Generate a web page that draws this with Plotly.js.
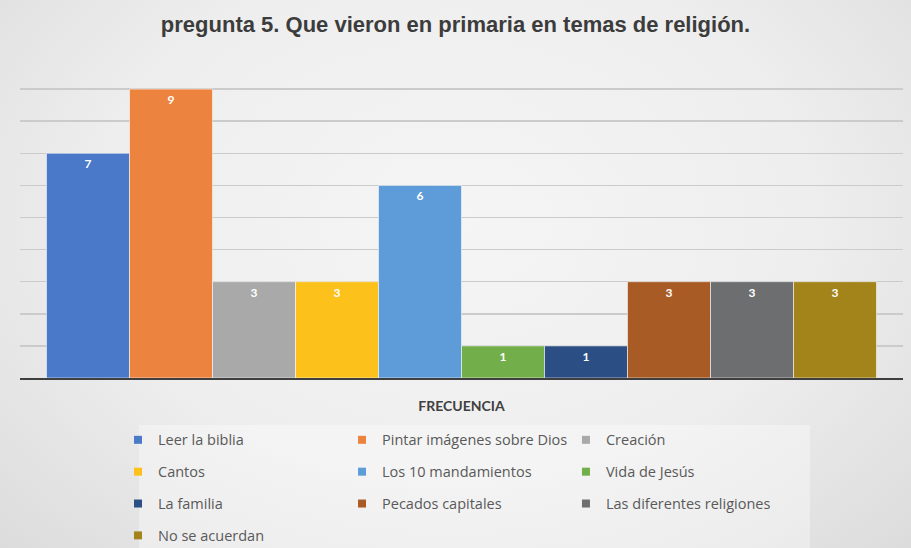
<!DOCTYPE html>
<html>
<head>
<meta charset="utf-8">
<script src="https://cdn.plot.ly/plotly-3.0.1.min.js"></script>
<style>
  html, body { margin: 0; padding: 0; }
  body { width: 911px; height: 548px; overflow: hidden;
    background: radial-gradient(ellipse at 50% 40%, #f5f5f5 0%, #eeeeee 55%, #dcdcdc 100%); }
  #chart { width: 911px; height: 548px; }
</style>
</head>
<body>
<div id="chart"></div>
<script>
const categories = ['FRECUENCIA'];
const seriesNames = ['Leer la biblia', 'Pintar imágenes sobre Dios', 'Creación', 'Cantos',
  'Los 10 mandamientos', 'Vida de Jesús', 'La familia', 'Pecados capitales',
  'Las diferentes religiones', 'No se acuerdan'];
const seriesValues = [7, 9, 3, 3, 6, 1, 1, 3, 3, 3];
const seriesColors = ['#4a79c9', '#ec8440', '#a9a9a9', '#fdc11c', '#5d9cd8', '#72af4a',
  '#2b4f85', '#a95b26', '#6c6e70', '#a3841b'];
// legend columns (row-major, 3 per row)
const legendIds = ['legend', 'legend2', 'legend3'];

const barTraces = seriesNames.map((name, i) => ({
  type: 'bar',
  name: name,
  x: categories,
  y: [seriesValues[i]],
  text: [String(seriesValues[i])],
  textposition: 'inside',
  insidetextanchor: 'end',
  textangle: 0,
  constraintext: 'none',
  textfont: { family: 'Lato, sans-serif', size: 12, color: '#ffffff', weight: 'bold' },
  marker: { color: seriesColors[i], line: { color: 'rgba(255,255,255,0.55)', width: 1 } },
  showlegend: false,
  hoverinfo: 'none'
}));

// legend entries with small square keys
const legendTraces = seriesNames.map((name, i) => ({
  type: 'scatter',
  mode: 'markers',
  name: name,
  x: categories,
  y: [null],
  marker: { symbol: 'square', size: 8, color: seriesColors[i] },
  legend: legendIds[i % 3],
  legendgroup: 'g' + i,
  hoverinfo: 'none'
}));

const legendFont = { family: '"Open Sans", sans-serif', size: 14.5, color: '#595959' };
const legendBase = {
  orientation: 'v', yanchor: 'top', xanchor: 'left', y: -0.143,
  bgcolor: 'rgba(0,0,0,0)', font: legendFont, tracegroupgap: 10, traceorder: 'grouped'
};

const layout = {
  width: 911, height: 548,
  paper_bgcolor: 'rgba(0,0,0,0)',
  plot_bgcolor: 'rgba(0,0,0,0)',
  margin: { l: 20, r: 8, t: 57, b: 170, autoexpand: false },
  barmode: 'group',
  bargap: 0.06,
  bargroupgap: 0,
  title: {
    text: '<b>pregunta 5. Que vieron en primaria en temas de religión.</b>',
    x: 0.5, xanchor: 'center', y: 0.955, yanchor: 'middle',
    font: { family: '"Liberation Sans", Arial, sans-serif', size: 22, color: '#3c3c3c' }
  },
  xaxis: {
    type: 'category',
    showgrid: false,
    showline: true, linecolor: '#3f3f3f', linewidth: 2,
    ticks: '',
    ticklabelstandoff: 14,
    tickfont: { family: 'Lato, sans-serif', size: 14, color: '#404040', weight: 'bold' },
    fixedrange: true
  },
  yaxis: {
    range: [0, 10],
    dtick: 1,
    showticklabels: false,
    showgrid: true, gridcolor: '#cbcbcb', gridwidth: 1.5,
    zeroline: false,
    fixedrange: true
  },
  showlegend: true,
  legend: Object.assign({}, legendBase, { x: 0.1110 }),
  legend2: Object.assign({}, legendBase, { x: 0.3647 }),
  legend3: Object.assign({}, legendBase, { x: 0.6183 }),
  shapes: [{
    type: 'rect', xref: 'paper', yref: 'paper', layer: 'below',
    x0: 0.1348, x1: 0.8947, y0: -0.1464, y1: -0.56,
    fillcolor: 'rgba(255,255,255,0.35)', line: { width: 0 }
  }]
};

Plotly.newPlot('chart', barTraces.concat(legendTraces), layout, { displayModeBar: false, staticPlot: true });
</script>
</body>
</html>
